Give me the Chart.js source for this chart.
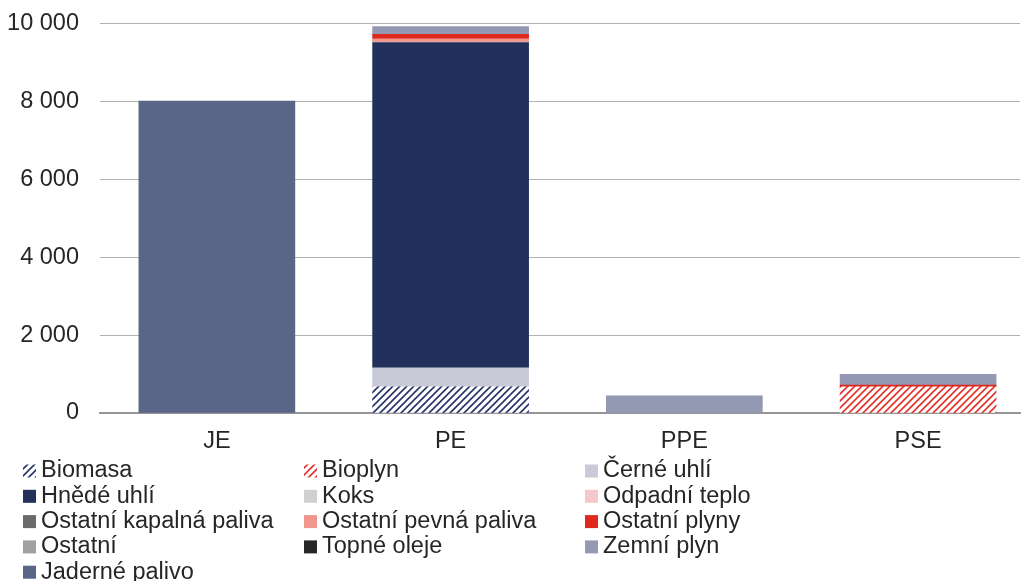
<!DOCTYPE html>
<html lang="cs">
<head>
<meta charset="utf-8">
<title>Spotřeba paliv podle typu elektrárny</title>
<script src="https://cdn.jsdelivr.net/npm/chart.js@4/dist/chart.umd.min.js"></script>
<style>
  html, body { margin: 0; padding: 0; background: #fff; overflow: hidden; }
  #wrap { position: relative; width: 1029px; height: 581px; overflow: hidden; }
  #chart { position: absolute; left: 0; top: -12px; }
</style>
</head>
<body>
<div id="wrap"><canvas id="chart" width="1029" height="593"></canvas></div>
<script>
// Categories (types of power plant) and fuel series
const categories = ['JE', 'PE', 'PPE', 'PSE'];

const biomasa              = [0, 670, 0, 0];
const bioplyn              = [0, 0, 0, 670];
const cerneUhli            = [0, 490, 0, 0];
const hnedeUhli            = [0, 8340, 0, 0];
const koks                 = [0, 0, 0, 0];
const odpadniTeplo         = [0, 15, 0, 0];
const ostatniKapalnaPaliva = [0, 0, 0, 0];
const ostatniPevnaPaliva   = [0, 80, 0, 0];
const ostatniPlyny         = [0, 120, 0, 45];
const ostatni              = [0, 0, 0, 0];
const topneOleje           = [0, 0, 0, 0];
const zemniPlyn            = [0, 195, 440, 275];
const jadernePalivo        = [8000, 0, 0, 0];

const yTicks = [0, 2000, 4000, 6000, 8000, 10000];

const FONT = "'Liberation Sans', Arial, sans-serif";
const FONT_SIZE = 23.5;
const TEXT = '#262626';

// Diagonal hatch fill
function hatch(color) {
  const s = 7;
  const c = document.createElement('canvas');
  c.width = s; c.height = s;
  const g = c.getContext('2d');
  g.fillStyle = '#fff';
  g.fillRect(0, 0, s, s);
  g.strokeStyle = color;
  g.lineWidth = 1.6;
  g.beginPath();
  g.moveTo(-1, s + 1); g.lineTo(s + 1, -1);
  g.moveTo(-1, 1); g.lineTo(1, -1);
  g.moveTo(s - 1, s + 1); g.lineTo(s + 1, s - 1);
  g.stroke();
  return document.getElementById('chart').getContext('2d').createPattern(c, 'repeat');
}

const series = [
  ['Biomasa', biomasa, hatch('#25346a')],
  ['Bioplyn', bioplyn, hatch('#e4322a')],
  ['Černé uhlí', cerneUhli, '#c8cad8'],
  ['Hnědé uhlí', hnedeUhli, '#22315c'],
  ['Koks', koks, '#d0d0d0'],
  ['Odpadní teplo', odpadniTeplo, '#f6c9c8'],
  ['Ostatní kapalná paliva', ostatniKapalnaPaliva, '#6b6b6b'],
  ['Ostatní pevná paliva', ostatniPevnaPaliva, '#ef968f'],
  ['Ostatní plyny', ostatniPlyny, '#e0291e'],
  ['Ostatní', ostatni, '#a0a0a0'],
  ['Topné oleje', topneOleje, '#262626'],
  ['Zemní plyn', zemniPlyn, '#9399b2'],
  ['Jaderné palivo', jadernePalivo, '#5a6688']
];

// Empty segments are left out so they leave no hairline
const datasets = series.map(([label, values, color]) => ({
  label,
  data: values.map((v, i) => ({ x: i, y: v === 0 ? null : v })),
  backgroundColor: color,
  borderWidth: 0,
  barThickness: 156
}));

const fmt = v => String(v).replace(/\B(?=(\d{3})+(?!\d))/g, ' ');

// Legend drawn as a three-column grid under the plot
const gridLegend = {
  id: 'gridLegend',
  afterDraw(chart) {
    const ctx = chart.ctx;
    const area = chart.chartArea;
    const colX = [23, 304, 585];
    const top = area.bottom + 57;
    const rowH = 25.3;
    const box = 13;
    ctx.save();
    ctx.font = FONT_SIZE + 'px ' + FONT;
    ctx.textBaseline = 'middle';
    ctx.textAlign = 'left';
    chart.data.datasets.forEach((ds, i) => {
      const col = i % 3, row = Math.floor(i / 3);
      const x = colX[col];
      const y = top + row * rowH;
      ctx.fillStyle = ds.backgroundColor;
      ctx.fillRect(x, y - box / 2 + 1, box, box);
      ctx.fillStyle = TEXT;
      ctx.fillText(ds.label, x + box + 5, y + 1);
    });
    ctx.restore();
  }
};

new Chart(document.getElementById('chart'), {
  type: 'bar',
  data: { datasets },
  plugins: [gridLegend],
  options: {
    responsive: false,
    animation: false,
    devicePixelRatio: 1,
    layout: { padding: { top: 0, right: 9, left: 0, bottom: 0 } },
    plugins: { legend: { display: false }, tooltip: { enabled: false } },
    scales: {
      x: {
        type: 'linear',
        stacked: true,
        offset: false,
        min: -0.5,
        max: 3.436,
        afterBuildTicks: s => { s.ticks = categories.map((_, i) => ({ value: i })); },
        afterFit: s => { s.height = 168; },
        grid: { display: false, drawTicks: false },
        border: { display: true, color: '#959595', width: 2 },
        ticks: {
          padding: 14,
          color: TEXT,
          font: { family: FONT, size: FONT_SIZE },
          callback: v => categories[v] ?? ''
        }
      },
      y: {
        stacked: true,
        min: 0,
        max: 10000,
        afterBuildTicks: s => { s.ticks = yTicks.map(v => ({ value: v })); },
        afterFit: s => { s.width = 100; },
        grid: {
          color: ctx => ctx.tick && ctx.tick.value === 0 ? 'rgba(0,0,0,0)' : '#b3b3b3',
          lineWidth: 1,
          drawTicks: false
        },
        border: { display: false },
        ticks: {
          padding: 21,
          color: TEXT,
          font: { family: FONT, size: FONT_SIZE },
          callback: v => fmt(v)
        }
      }
    }
  }
});
</script>
</body>
</html>
